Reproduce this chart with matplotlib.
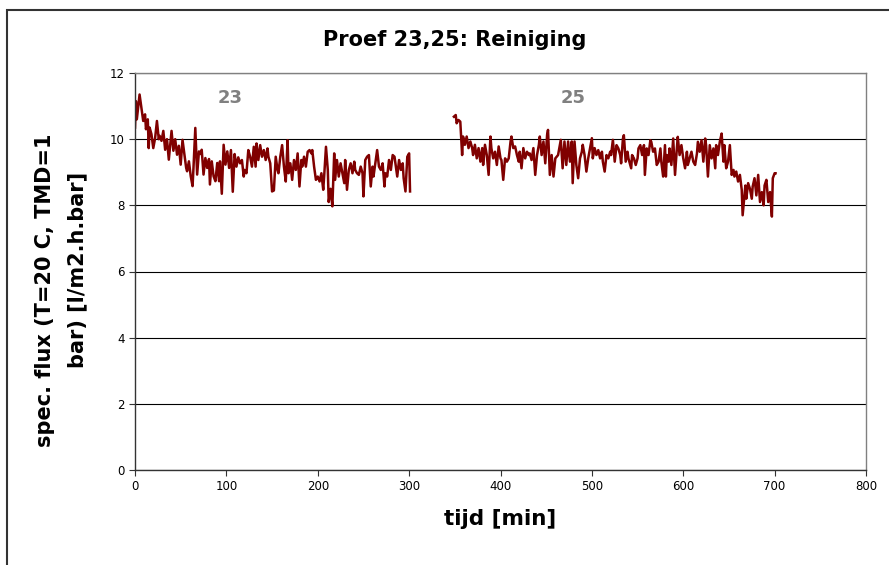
import matplotlib

matplotlib.use("Agg")
import matplotlib.pyplot as plt
from matplotlib.patches import Rectangle

# Proef 23 (0-300 min) and proef 25 (350-700 min).
t_23 = [0, 1, 2, 5, 7, 9, 11, 12, 14, 15, 16, 18, 20, 22, 24, 26, 27, 29, 31, 33,
        35, 37, 39, 40, 42, 44, 46, 48, 50, 52, 54, 56, 57, 59, 61, 63, 64, 66, 68, 70,
        72, 73, 75, 77, 79, 81, 82, 84, 86, 88, 90, 92, 93, 95, 97, 99, 101, 103,
        105, 107, 109, 111, 113, 115, 117, 119, 120, 122, 124, 126, 128, 130, 132, 133,
        135, 137, 139, 141, 143, 145, 146, 148, 150, 152, 154, 156, 157, 159, 161, 163,
        165, 167, 168, 170, 172, 174, 176, 178, 180, 182, 183, 185, 187, 189, 191, 193,
        194, 196, 198, 200, 202, 204, 206, 207,
        209, 211, 212, 214, 216, 218, 219, 221, 223, 225, 227, 229, 230, 232, 234, 236,
        238, 240, 241, 243, 245, 247, 249, 250, 252, 254, 256, 258, 260, 261, 263, 265,
        267, 269, 271, 273, 274, 276, 278, 280, 282, 284, 285, 287, 289, 291, 293, 294,
        296, 298, 300, 301]
flux_23 = [10.35, 11.15, 10.6, 11.35, 10.95, 10.55, 10.75, 10.3, 10.6, 9.73, 10.35, 10.15,
           9.73, 10.03, 10.55, 10.0, 10.1, 9.95, 10.25, 9.68, 10.0, 9.38, 9.95, 10.25, 9.65,
           10.0, 9.53, 9.8, 9.23, 9.98, 9.55, 9.13, 9.03, 9.33, 8.88, 8.58, 9.13, 10.34,
           8.93, 9.63, 9.55, 9.68, 8.93, 9.43, 9.13, 9.4, 8.63, 9.33, 8.88, 8.73, 9.28,
           8.73, 9.33, 8.35, 9.83, 9.23, 9.63, 9.13,
           9.67, 8.41, 9.55, 9.17, 9.45, 9.27, 9.37, 8.87, 9.07, 8.97, 9.67, 9.47, 9.17,
           9.77, 9.17, 9.87, 9.37, 9.82, 9.47, 9.67, 9.37, 9.72, 9.47, 9.27, 8.42, 8.45,
           9.47, 9.07, 8.97, 9.47, 9.82, 9.17, 8.72, 9.97, 8.97, 9.27, 8.77, 9.37, 9.07,
           9.57, 8.57, 9.37, 9.17, 9.47, 9.17, 9.62, 9.67, 9.57, 9.67, 9.17, 8.77, 8.87,
           8.72, 8.97, 8.47, 8.87,
           9.77, 9.07, 8.1, 8.5, 7.97, 9.57, 8.77, 9.37, 8.87, 9.27, 8.97, 8.67, 9.37, 8.47,
           9.07, 9.27, 8.97, 9.32, 9.07, 8.97, 8.92, 9.17, 8.97, 8.27, 9.37, 9.47, 9.52,
           8.57, 9.17, 8.87, 9.27, 9.67, 9.17, 9.07, 9.27, 8.57, 8.97, 8.87, 9.37, 9.07,
           9.52, 9.47, 9.27, 8.87, 9.37, 9.07, 9.27, 8.82, 8.42, 9.47, 9.57, 8.42]

t_25 = [349, 351, 352, 354, 356, 358, 359, 361, 363, 365, 367, 369, 370, 372, 374, 376,
        378, 380, 381, 383, 385, 387, 389, 390, 392, 394, 396, 398, 400, 401, 403, 405,
        407, 409, 411, 412, 414, 416, 418, 420, 421, 423, 425, 427, 429, 431, 432, 434,
        436, 438, 440, 442, 443, 445, 447, 449, 451, 452, 454, 456, 458,
        460, 463, 466, 468, 470, 472, 474, 476, 478, 479, 481, 483, 485, 487, 489, 490,
        492, 494, 496, 498, 500, 501, 503, 505, 507, 509, 511, 512, 514, 516, 518, 520,
        521, 523, 525, 527, 529, 531, 532, 534, 535, 537, 539, 540, 543, 544, 546, 548,
        550, 551, 553, 555, 557, 558, 560, 562, 564, 565, 567, 569, 571, 573, 575, 576,
        578, 580, 581, 582, 584, 585, 587, 589, 591, 593, 594, 596, 598, 600, 602, 604,
        605, 607, 609, 611, 613, 615, 616, 618, 620, 622, 624, 625, 627, 629, 631, 633,
        635, 636, 638, 640, 642, 644, 645, 647, 649, 651, 653, 655, 656, 658, 660, 662,
        664, 665, 666, 668, 669, 671, 673, 675, 676, 678, 680, 682, 684, 686, 688, 689,
        691, 693, 695, 697, 698, 700, 701]
flux_25 = [10.68, 10.73, 10.48, 10.58, 10.53, 9.52, 10.08, 9.83, 10.08, 9.73, 9.93, 9.73,
           9.52, 9.83, 9.42, 9.73, 9.32, 9.73, 9.22, 9.83, 9.52, 8.92, 10.08, 9.73, 9.42,
           9.62, 9.22, 9.78, 9.42, 9.37, 8.77, 9.42, 9.32, 9.42, 9.93, 10.08, 9.73, 9.78,
           9.52, 9.32, 9.62, 9.12, 9.73, 9.42, 9.62, 9.52, 9.57, 9.37, 9.73, 8.92, 9.52,
           9.83, 10.08, 9.52, 9.93, 9.27, 10.13, 10.28, 8.92, 9.52, 8.87,
           9.42, 9.52, 9.98, 9.12, 9.93, 9.22, 9.93, 9.32, 9.93, 8.67, 9.93, 9.22, 8.82,
           9.42, 9.62, 9.83, 9.52, 9.02, 9.42, 9.73, 10.03, 9.42, 9.73, 9.52, 9.67, 9.42,
           9.62, 9.32, 9.02, 9.52, 9.42, 9.62, 9.52, 9.98, 9.32, 9.82, 9.72, 9.52, 9.27,
           10.02, 10.12, 9.32, 9.62, 9.42, 9.12, 9.52, 9.42, 9.22, 9.42, 9.72, 9.82, 9.52,
           9.82, 8.92, 9.72, 9.52, 9.97, 9.92, 9.62, 9.72, 9.22, 9.32, 9.72, 9.32, 8.87,
           9.82, 8.87, 9.52, 9.32, 9.72, 9.22, 10.02, 8.92, 9.72, 10.07, 9.52, 9.82, 9.42,
           9.12, 9.62, 9.22, 9.42, 9.62, 9.32, 9.22, 9.57, 9.92, 9.62, 9.97, 9.32, 10.02,
           9.82, 8.87, 9.82, 9.42, 9.72, 9.12, 9.82, 9.52, 9.92, 10.17, 9.32, 9.82, 9.12,
           9.32, 9.82, 8.92, 9.07, 8.87, 9.02, 8.72, 8.92, 8.47, 7.7, 8.0, 8.6, 8.2, 8.67,
           8.5, 8.2, 8.57, 8.82, 8.3, 8.92, 8.1, 8.4, 8.0, 8.6, 8.77, 8.1, 8.4, 7.66, 8.82,
           8.97, 8.97]

x_ticks = [0, 100, 200, 300, 400, 500, 600, 700, 800]
y_ticks = [0, 2, 4, 6, 8, 10, 12]
labels = [("23", 104, 11.25), ("25", 480, 11.25)]

LINE_COLOR = "#800000"
W, H = 889, 565  # pixel size of the chart

fig = plt.figure(figsize=(W / 100, H / 100), dpi=100)
# chart frame (cut off at right/bottom in the original screenshot)
fig.patches.append(Rectangle((7 / W, -0.2), 1.2, 1.2 - 10 / H,
                             transform=fig.transFigure, fill=False, ec="#333333", lw=1.5))
ax = fig.add_axes([135 / W, 95 / H, 731 / W, 397 / H])

ax.plot(t_23, flux_23, color=LINE_COLOR, lw=1.8)
ax.plot(t_25, flux_25, color=LINE_COLOR, lw=1.8)
for txt, x, y in labels:
    ax.text(x, y, txt, color="#808080", fontsize=13, fontweight="bold", ha="center", va="center")

ax.set_xlim(0, 800)
ax.set_ylim(0, 12)
ax.set_xticks(x_ticks)
ax.set_yticks(y_ticks)
ax.tick_params(labelsize=8.5, length=4, width=0.8, color="#333333")
ax.grid(axis="y", color="black", lw=0.8)
ax.set_axisbelow(True)
for side in ("top", "right"):
    ax.spines[side].set_color("#808080")
    ax.spines[side].set_linewidth(1.0)
for side in ("left", "bottom"):
    ax.spines[side].set_color("#333333")
    ax.spines[side].set_linewidth(1.0)

ax.set_xlabel("tijd [min]", fontsize=15.5, fontweight="bold", labelpad=11)
# the two y-label lines sit at slightly different heights in the original
fig.text(45 / W, 1 - 290 / H, "spec. flux (T=20 C, TMD=1", rotation=90, ha="center",
         va="center", fontsize=15, fontweight="bold")
fig.text(77 / W, 1 - 270 / H, "bar) [l/m2.h.bar]", rotation=90, ha="center",
         va="center", fontsize=15, fontweight="bold")
fig.text(455 / W, 1 - 40 / H, "Proef 23,25: Reiniging", ha="center", va="center",
         fontsize=15, fontweight="bold")

fig.savefig("out.png", dpi=100)
